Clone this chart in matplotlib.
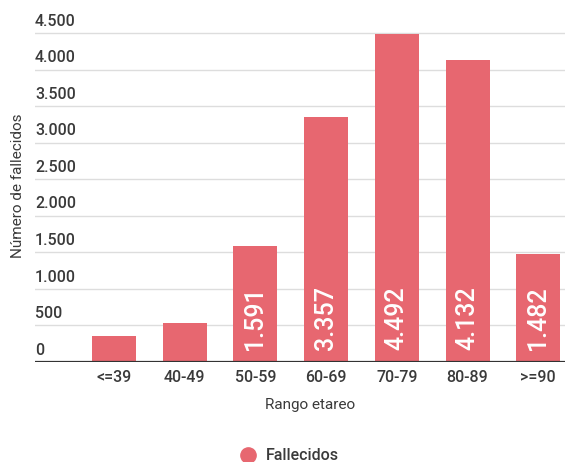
import matplotlib
matplotlib.use("Agg")
import matplotlib.pyplot as plt
from matplotlib.transforms import blended_transform_factory
from matplotlib.lines import Line2D

plt.rcParams['font.family'] = ['Roboto', 'DejaVu Sans']

categories = ["<=39", "40-49", "50-59", "60-69", "70-79", "80-89", ">=90"]
fallecidos = [355, 530, 1591, 3357, 4492, 4132, 1482]
labeled = [False, False, True, True, True, True, True]
yticks = [0, 500, 1000, 1500, 2000, 2500, 3000, 3500, 4000, 4500]
ytick_labels = ["0", "500", "1.000", "1.500", "2.000", "2.500", "3.000", "3.500", "4.000", "4.500"]

bar_color = "#E76770"
text_color = "#3a3a3a"

fig = plt.figure(figsize=(5.69, 4.62), dpi=100)
W, H = 569, 462
ax_left, ax_right = 35, 565
y0_px, per1000 = 362, 73.1
ymax = 4600
ax_top = y0_px - ymax / 1000 * per1000
ax = fig.add_axes([ax_left / W, (H - y0_px) / H, (ax_right - ax_left) / W, (y0_px - ax_top) / H])

x = list(range(len(categories)))
spacing = 70.7
xmin = (ax_left - 114) / spacing
xmax = (ax_right - 114) / spacing
ax.set_xlim(xmin, xmax)
ax.set_ylim(0, ymax)

bar_w = 44 / spacing
ax.bar(x, fallecidos, width=bar_w, color=bar_color, zorder=3)

for yt in yticks[1:]:
    ax.axhline(yt, color="#dddddd", lw=1.0, zorder=1)
ax.axhline(0, color="#333333", lw=1.6, zorder=4)

trans = blended_transform_factory(ax.transAxes, ax.transData)
for yt, lab in zip(yticks, ytick_labels):
    ax.text(0.0, yt + 60, lab, transform=trans, ha="left", va="bottom",
            fontsize=11.5, color=text_color, fontweight="medium")

for xi, v, lab in zip(x, fallecidos, labeled):
    if lab:
        ax.text(xi, 170, f"{v:,}".replace(",", "."), rotation=90, ha="center", va="bottom",
                color="white", fontsize=18, fontweight="medium", zorder=5)

ax.set_xticks(x)
ax.set_xticklabels(categories, fontsize=11.5, color=text_color, fontweight="medium")
ax.tick_params(axis="x", length=0, pad=6)
ax.set_yticks([])
for s in ax.spines.values():
    s.set_visible(False)

fig.text(310 / W, 1 - 405 / H, "Rango etareo", ha="center", va="center", fontsize=11, color=text_color)
fig.text(18 / W, 1 - 186 / H, "Número de fallecidos", rotation=90, ha="center", va="center",
         fontsize=11, color=text_color)

fig.add_artist(Line2D([248 / W], [1 - 455 / H], marker="o", markersize=11, color=bar_color,
                      transform=fig.transFigure, linestyle="none"))
fig.text(266 / W, 1 - 455 / H, "Fallecidos", ha="left", va="center", fontsize=11.5, color=text_color,
         fontweight="medium")

fig.savefig("out.png", dpi=100)
